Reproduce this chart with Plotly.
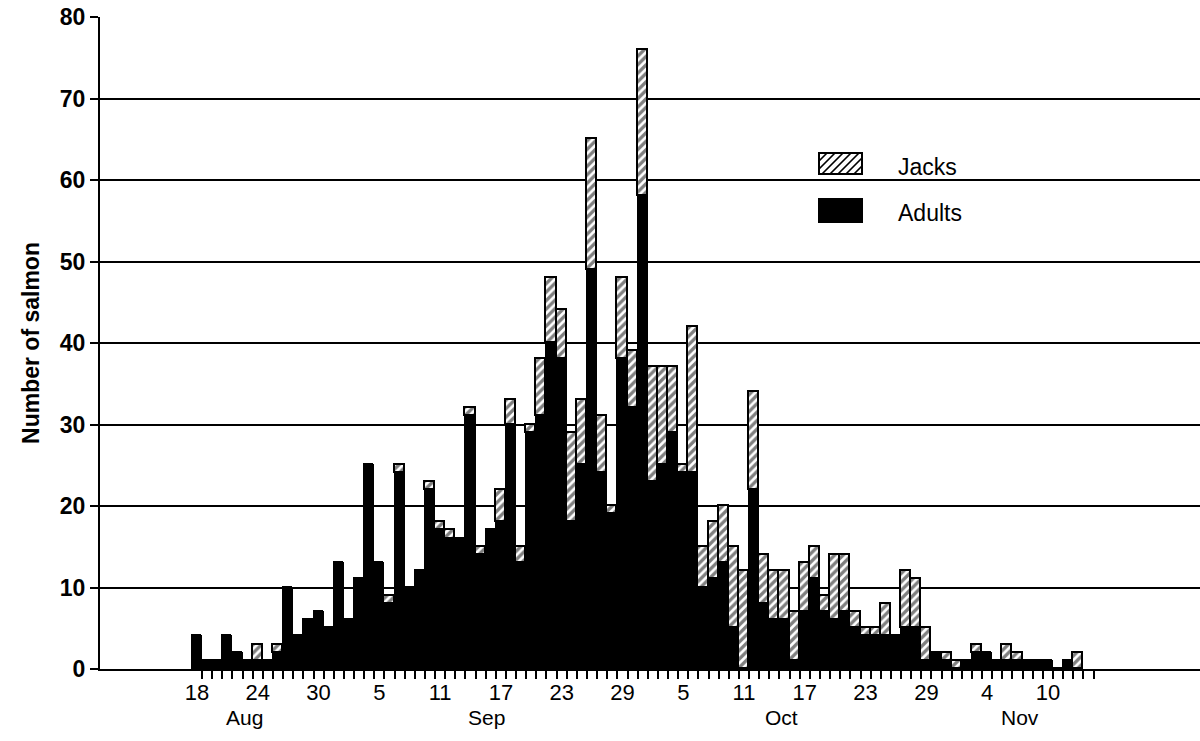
import plotly.graph_objects as go

# Day index 0 = 18 Aug; one bar per day
adults = [4, 1, 1, 4, 2, 1, 1, 1, 2, 10,
          4, 6, 7, 5, 13, 6, 11, 25, 13, 8,
          24, 10, 12, 22, 17, 16, 16, 31, 14, 17,
          18, 30, 13, 29, 31, 40, 38, 18, 25, 49,
          24, 19, 38, 32, 58, 23, 25, 29, 24, 24,
          10, 11, 13, 5, 0, 22, 8, 6, 6, 1,
          7, 11, 7, 6, 7, 5, 4, 4, 4, 4,
          5, 5, 1, 2, 1, 0, 1, 2, 2, 1,
          1, 1, 1, 1, 1, 0, 1, 0]
jacks = [0, 0, 0, 0, 0, 0, 2, 0, 1, 0,
         0, 0, 0, 0, 0, 0, 0, 0, 0, 1,
         1, 0, 0, 1, 1, 1, 0, 1, 1, 0,
         4, 3, 2, 1, 7, 8, 6, 11, 8, 16,
         7, 1, 10, 7, 18, 14, 12, 8, 1, 18,
         5, 7, 7, 10, 12, 12, 6, 6, 6, 6,
         6, 4, 2, 8, 7, 2, 1, 1, 4, 0,
         7, 6, 4, 0, 1, 1, 0, 1, 0, 0,
         2, 1, 0, 0, 0, 0, 0, 2]
days = list(range(len(adults)))

tick_days = [0, 6, 12, 18, 24, 30, 36, 42, 48, 54, 60, 66, 72, 78, 84]
tick_text = ["18", "24", "30", "5", "11", "17", "23", "29", "5", "11", "17", "23", "29", "4", "10"]
day_ticks = [d + 0.5 for d in range(89)]
months = ["Aug", "Sep", "Oct", "Nov"]
month_pos = [4.7, 28.6, 57.7, 81.2]
series_names = ["Jacks", "Adults"]

FONT = "Liberation Sans, Arial, Helvetica, sans-serif"
W, H = 1200, 741
ML, MR, MT, MB = 100, 0, 17, 72


def px_x(p):
    return (p - ML) / (W - ML - MR)


def px_y(p):
    return 1 - (p - MT) / (H - MT - MB)


fig = go.Figure()
fig.add_trace(go.Bar(
    x=days, y=adults, name="Adults",
    marker=dict(color="black", line=dict(color="black", width=1.2)),
))
fig.add_trace(go.Bar(
    x=days, y=jacks, name="Jacks",
    marker=dict(color="white",
                line=dict(color="black", width=1.7),
                pattern=dict(shape="/", fgcolor="black", bgcolor="white",
                             size=6, solidity=0.55)),
))

for m, p in zip(months, month_pos):
    fig.add_annotation(x=p, y=px_y(717), xref="x", yref="paper", text=m,
                       showarrow=False, yanchor="middle",
                       font=dict(family=FONT, size=21, color="black"))

# Legend drawn as swatches + text (large swatches as in the original)
sw_x0, sw_x1 = 819, 862
jy0, jy1 = 153, 174
ay0, ay1 = 199, 222
shapes = [
    dict(type="rect", xref="paper", yref="paper",
         x0=px_x(sw_x0), x1=px_x(sw_x1), y0=px_y(jy1), y1=px_y(jy0),
         line=dict(color="black", width=2), fillcolor="white", layer="above"),
    dict(type="rect", xref="paper", yref="paper",
         x0=px_x(sw_x0), x1=px_x(sw_x1), y0=px_y(ay1), y1=px_y(ay0),
         line=dict(color="black", width=2), fillcolor="black", layer="above"),
]
# diagonal hatch lines inside the Jacks swatch
step = 8
start = sw_x0 - (jy1 - jy0)
x = start + step
while x < sw_x1:
    xa, ya = x, jy1
    xb, yb = x + (jy1 - jy0), jy0
    if xa < sw_x0:
        ya = jy1 - (sw_x0 - xa)
        xa = sw_x0
    if xb > sw_x1:
        yb = jy0 + (xb - sw_x1)
        xb = sw_x1
    if xb > xa:
        shapes.append(dict(type="line", xref="paper", yref="paper",
                           x0=px_x(xa), y0=px_y(ya), x1=px_x(xb), y1=px_y(yb),
                           line=dict(color="black", width=1.7), layer="above"))
    x += step

for name, yc in zip(series_names, [167, 213]):
    fig.add_annotation(x=px_x(896), y=px_y(yc), xref="paper", yref="paper",
                       text=name, showarrow=False, xanchor="left", yanchor="middle",
                       font=dict(family=FONT, size=23, color="black"))

fig.update_layout(
    width=W, height=H,
    margin=dict(l=ML, r=MR, t=MT, b=MB),
    barmode="stack", bargap=0,
    plot_bgcolor="white", paper_bgcolor="white",
    font=dict(family=FONT, color="black"),
    showlegend=False,
    shapes=shapes,
    xaxis=dict(
        range=[-9.575, 99.01],
        tickmode="array", tickvals=tick_days, ticktext=tick_text,
        ticks="outside", ticklen=3, tickcolor="rgba(0,0,0,0)",
        tickfont=dict(family=FONT, size=22, color="black"),
        showgrid=False, zeroline=False,
        showline=True, linecolor="black", linewidth=2,
        minor=dict(tickmode="array", tickvals=day_ticks, ticks="outside",
                   ticklen=8, tickwidth=2, tickcolor="black", showgrid=False),
    ),
    yaxis=dict(
        range=[0, 80], tickmode="linear", tick0=0, dtick=10,
        ticks="outside", ticklen=8, tickwidth=2, tickcolor="black",
        tickfont=dict(family=FONT, size=23, color="black", weight="bold"),
        showgrid=True, gridcolor="black", gridwidth=1.5,
        zeroline=False,
        showline=True, linecolor="black", linewidth=2,
        title=dict(text="Number of salmon", standoff=14,
                   font=dict(family=FONT, size=23, color="black", weight="bold")),
    ),
)

fig.write_html("out.html")
